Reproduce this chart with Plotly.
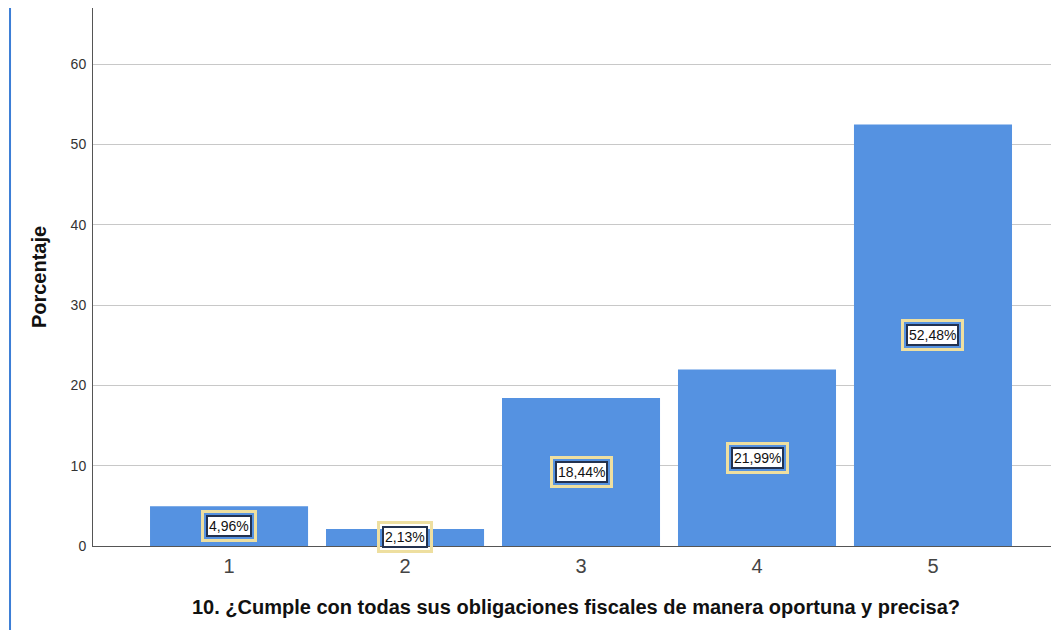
import plotly.graph_objects as go

categories = ["1", "2", "3", "4", "5"]
values = [4.96, 2.13, 18.44, 21.99, 52.48]
labels = ["4,96%", "2,13%", "18,44%", "21,99%", "52,48%"]
y_ticks = [0, 10, 20, 30, 40, 50, 60]

FONT = "Liberation Sans, Arial, sans-serif"

fig = go.Figure()
fig.add_trace(go.Bar(
    x=categories, y=values, width=0.898,
    marker=dict(color="#5592E1", line=dict(width=0)),
    hoverinfo="skip",
))

annotations = []
for i, (v, t) in enumerate(zip(values, labels)):
    # outer yellow ring
    annotations.append(dict(
        x=i, y=v / 2, xref="x", yref="y", text=t, showarrow=False,
        font=dict(family=FONT, size=14, color="rgba(0,0,0,0)"),
        bordercolor="#EEDFA0", borderwidth=3, borderpad=5,
        bgcolor="rgba(0,0,0,0)",
    ))
    # inner white box
    annotations.append(dict(
        x=i, y=v / 2, xref="x", yref="y", text=t, showarrow=False,
        font=dict(family=FONT, size=14, color="#111111"),
        bordercolor="#23324F", borderwidth=2, borderpad=1,
        bgcolor="white",
    ))

annotations.append(dict(
    x=0.5, y=-0.113, xref="paper", yref="paper", yanchor="middle",
    text="<b>10. ¿Cumple con todas sus obligaciones fiscales de manera oportuna y precisa?</b>",
    showarrow=False, font=dict(family=FONT, size=20, color="#111111"),
))

fig.update_layout(
    width=1051, height=622,
    margin=dict(l=85, r=0, t=0, b=84, autoexpand=False),
    paper_bgcolor="white", plot_bgcolor="white",
    showlegend=False,
    annotations=annotations,
    shapes=[dict(
        type="line", xref="paper", yref="paper",
        x0=-0.0859, x1=-0.0859, y0=-0.16, y1=1.0,
        line=dict(color="#3C7ED6", width=2),
    )],
    xaxis=dict(
        type="category", range=[-0.773, 4.716], automargin=False,
        showline=True, linecolor="#555555", linewidth=1,
        showgrid=False, ticks="", ticklen=0, ticklabelstandoff=2,
        tickfont=dict(family=FONT, size=20, color="#444444"),
        zeroline=False,
    ),
    yaxis=dict(
        range=[0, 67], tickvals=y_ticks, automargin=False,
        showline=True, linecolor="#555555", linewidth=1,
        showgrid=True, gridcolor="#C8C8C8", gridwidth=1,
        ticks="", ticklabelstandoff=3,
        tickfont=dict(family=FONT, size=14, color="#333333"),
        zeroline=False,
        title=dict(text="<b>Porcentaje</b>", font=dict(family=FONT, size=20, color="#111111"), standoff=18),
    ),
)

fig.write_html("out.html")
